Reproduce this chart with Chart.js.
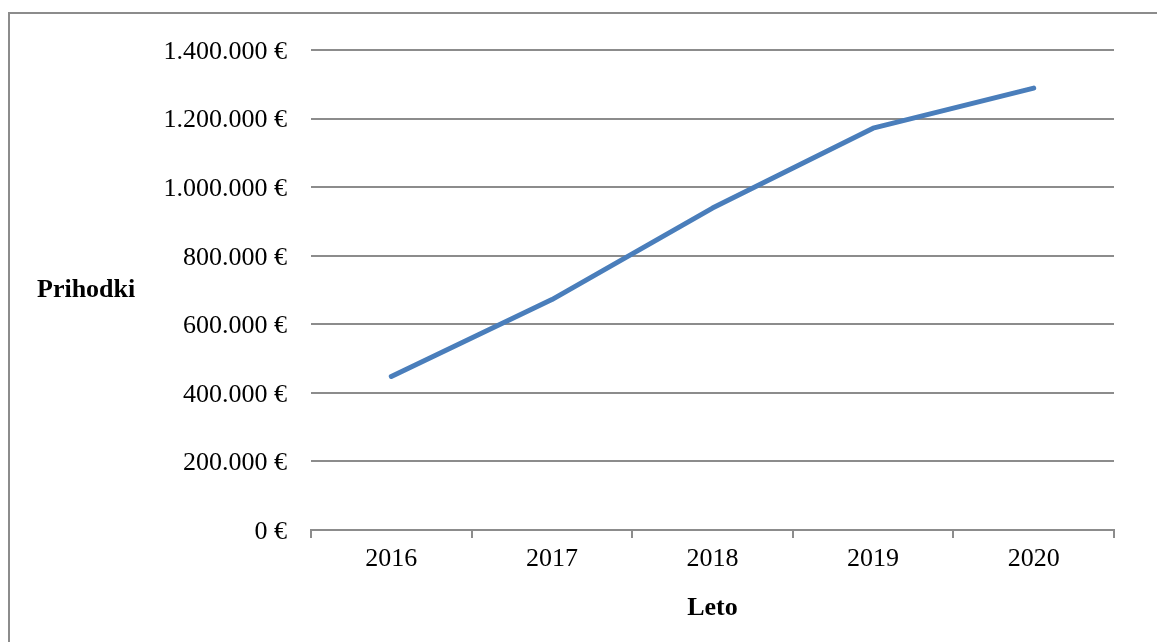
<!DOCTYPE html>
<html>
<head>
<meta charset="utf-8">
<script src="https://cdn.jsdelivr.net/npm/chart.js@4/dist/chart.umd.min.js"></script>
<style>
  body { margin: 0; background: #fff; }
  .frame { position: absolute; left: 8px; top: 12px; width: 1200px; height: 700px; border: 2px solid #8c8c8c; }
  .wrap { position: absolute; left: 0; top: 0; width: 1157px; height: 642px; }
</style>
</head>
<body>
<div class="frame"></div>
<div class="wrap"><canvas class="myChart"></canvas></div>
<script>
const years = ['2016', '2017', '2018', '2019', '2020'];
const revenue = [448000, 672000, 939000, 1172000, 1289000];
const yMax = 1400000;
const yStep = 200000;

const font = "Liberation Serif";

function euro(v) {
  return v.toLocaleString('de-DE') + ' €';
}

const axisTitles = {
  id: 'axisTitles',
  afterDraw(chart) {
    const c = chart.ctx;
    const a = chart.chartArea;
    c.save();
    c.fillStyle = '#000';
    c.font = 'bold 26px ' + font;
    c.textBaseline = 'middle';
    c.textAlign = 'left';
    c.fillText('Prihodki', 37, 290);
    c.textAlign = 'center';
    c.fillText('Leto', (a.left + a.right) / 2, 608);
    c.restore();
  }
};

new Chart(document.querySelector('.myChart'), {
  type: 'line',
  data: {
    labels: years,
    datasets: [{
      label: 'Prihodki',
      data: revenue,
      borderColor: '#4a7ebb',
      borderWidth: 5,
      borderCapStyle: 'round',
      borderJoinStyle: 'round',
      pointRadius: 0,
      tension: 0
    }]
  },
  options: {
    responsive: true,
    maintainAspectRatio: false,
    animation: false,
    layout: { padding: { top: 50, right: 43, left: 0, bottom: 0 } },
    scales: {
      x: {
        offset: true,
        grid: { offset: true, drawOnChartArea: false, color: '#8c8c8c', lineWidth: 2, tickLength: 8 },
        border: { color: '#8c8c8c', width: 2 },
        ticks: { color: '#000', font: { family: font, size: 26 }, padding: 6, maxRotation: 0 },
        afterFit(scale) { scale.height = 112; }
      },
      y: {
        min: 0,
        max: yMax,
        grid: { color: '#8c8c8c', lineWidth: 2, drawTicks: false },
        border: { display: false },
        ticks: { stepSize: yStep, color: '#000', font: { family: font, size: 26 }, padding: 24, labelOffset: 2, callback: v => euro(v) },
        afterFit(scale) { scale.width = 311; }
      }
    },
    plugins: { legend: false, tooltip: false }
  },
  plugins: [axisTitles]
});
</script>
</body>
</html>
